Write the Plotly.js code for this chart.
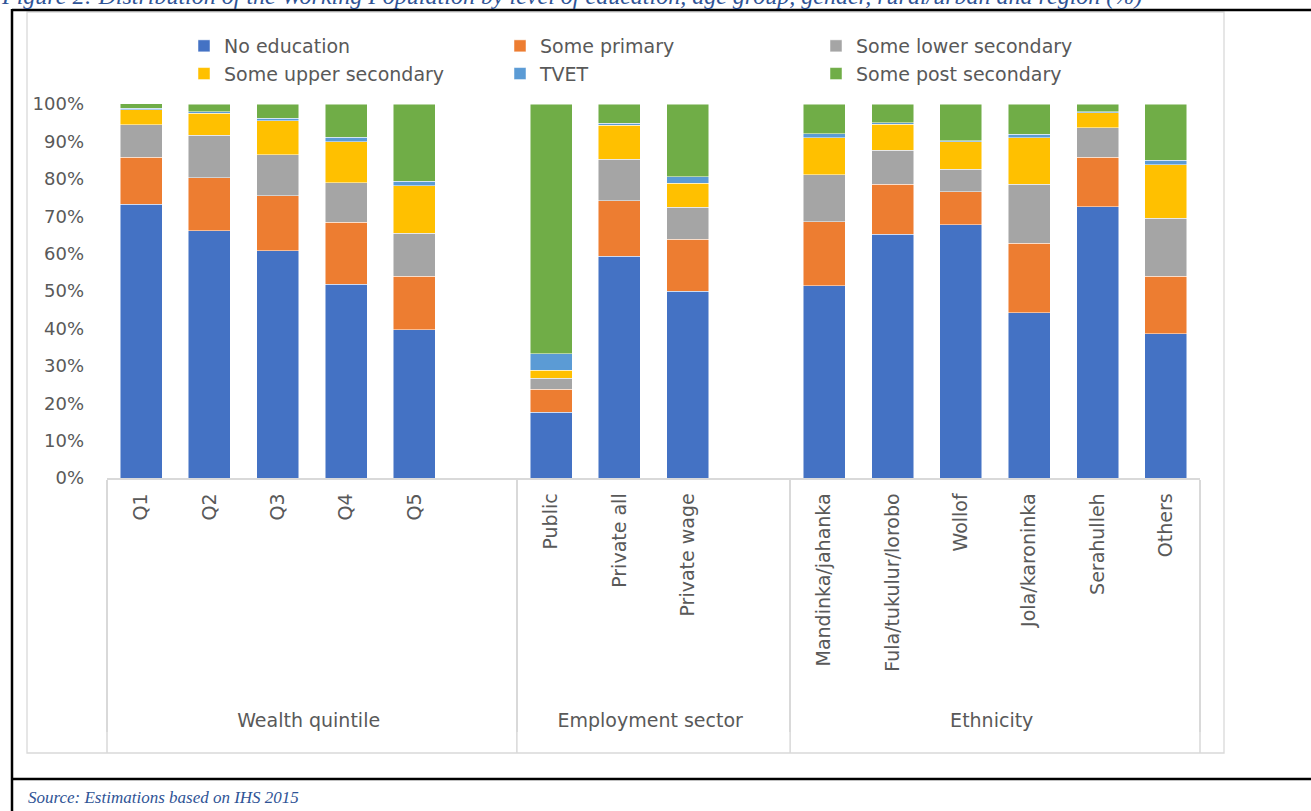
<!DOCTYPE html>
<html>
<head>
<meta charset="utf-8">
<script src="https://cdn.plot.ly/plotly-3.0.1.min.js"></script>
<style>
  html, body { margin: 0; padding: 0; background: #ffffff; }
  #chart { width: 1311px; height: 811px; }
</style>
</head>
<body>
<div id="chart"></div>
<script>
// ---- data (percent) ----
const groups = [
  "Wealth quintile", "Wealth quintile", "Wealth quintile", "Wealth quintile", "Wealth quintile", "Wealth quintile",
  "Employment sector", "Employment sector", "Employment sector", "Employment sector",
  "Ethnicity", "Ethnicity", "Ethnicity", "Ethnicity", "Ethnicity", "Ethnicity"
];
const categories = [
  "Q1", "Q2", "Q3", "Q4", "Q5", " ",
  "Public", "Private all", "Private wage", "  ",
  "Mandinka/jahanka", "\u00a0\u00a0\u00a0\u00a0Fula/tukulur/lorobo", "Wollof", "Jola/karoninka", "Serahulleh", "Others"
];
const seriesNames = ["No education", "Some primary", "Some lower secondary",
                     "Some upper secondary", "TVET", "Some post secondary"];
const noEducation        = [73.2, 66.1, 60.7, 51.8, 39.7, null, 17.6, 59.3, 50.0, null, 51.4, 65.2, 67.7, 44.2, 72.5, 38.6];
const somePrimary        = [12.5, 14.2, 14.8, 16.6, 14.3, null,  6.1, 14.8, 13.9, null, 17.1, 13.3,  8.9, 18.6, 13.2, 15.4];
const someLowerSecondary = [ 8.8, 11.4, 10.9, 10.5, 11.5, null,  3.0, 11.1,  8.5, null, 12.6,  9.1,  5.9, 15.8,  8.0, 15.5];
const someUpperSecondary = [ 4.0,  5.8,  9.1, 11.0, 12.7, null,  2.1,  9.1,  6.4, null,  9.9,  7.0,  7.4, 12.4,  3.9, 14.2];
const tvet               = [ 0.3,  0.4,  0.7,  1.2,  1.1, null,  4.4,  0.6,  1.8, null,  1.0,  0.4,  0.3,  0.9,  0.3,  1.2];
const somePostSecondary  = [ 1.3,  2.1,  3.8,  8.9, 20.7, null, 66.8,  5.1, 19.4, null,  8.0,  5.0,  9.8,  8.1,  2.1, 15.1];
const seriesValues = [noEducation, somePrimary, someLowerSecondary, someUpperSecondary, tvet, somePostSecondary];
const seriesColors = ["#4472C4", "#ED7D31", "#A5A5A5", "#FFC000", "#5B9BD5", "#70AD47"];
const yTickVals = [0, 10, 20, 30, 40, 50, 60, 70, 80, 90, 100];
const yTickText = ["0%", "10%", "20%", "30%", "40%", "50%", "60%", "70%", "80%", "90%", "100%"];

const titleText = "Figure 2: Distribution of the Working Population by level of education, age group, gender, rural/urban and region (%)";
const sourceText = "Source: Estimations based on IHS 2015";

// ---- geometry helpers (page pixels -> paper coords) ----
const W = 1311, H = 811;
const PL = 107, PR = 1200, PT = 104, PB = 478;
const px = x => (x - PL) / (PR - PL);
const py = y => (PB - y) / (PB - PT);

const textFont = "DejaVu Sans, Open Sans, sans-serif";
const grey = "#595959";
const divColor = "#d9d9d9";

const traces = seriesNames.map((name, i) => ({
  type: "bar",
  name: name,
  x: [groups, categories],
  y: seriesValues[i],
  marker: { color: seriesColors[i], line: { color: "rgba(255,255,255,0.7)", width: 0.7 } },
  hovertemplate: "%{x}<br>" + name + ": %{y}%<extra></extra>"
}));

// group boundaries (in category-slot units) -> extend dividers down to the chart box
const nSlots = categories.length;
const bounds = [0];
for (let i = 0; i < nSlots - 1; i++) if (groups[i] !== groups[i + 1]) bounds.push(i + 1);
bounds.push(nSlots);
const dividerShapes = bounds.map(b => ({
  type: "line", xref: "paper", yref: "paper",
  x0: b / nSlots, x1: b / nSlots, y0: py(700), y1: py(753),
  line: { color: divColor, width: 1.5 }, layer: "below"
}));

const layout = {
  width: W, height: H,
  margin: { l: PL, r: W - PR, t: PT, b: H - PB, pad: 0 },
  paper_bgcolor: "#ffffff",
  plot_bgcolor: "#ffffff",
  barmode: "stack",
  bargap: 0.385,
  showlegend: true,
  legend: {
    orientation: "h",
    traceorder: "normal",
    x: px(184), xanchor: "left",
    y: py(27), yanchor: "top",
    entrywidth: 271, entrywidthmode: "pixels",
    font: { family: textFont, size: 19, color: grey },
    bgcolor: "rgba(0,0,0,0)",
    itemclick: false, itemdoubleclick: false
  },
  xaxis: {
    type: "multicategory",
    tickangle: -90,
    tickfont: { family: textFont, size: 19, color: grey },
    showline: true, linecolor: divColor, linewidth: 1.5,
    ticks: "",
    showgrid: false,
    showdividers: true, dividercolor: divColor, dividerwidth: 1.5,
    ticklabelstandoff: 6,
    fixedrange: true
  },
  yaxis: {
    range: [0, 100],
    tickmode: "array",
    tickvals: yTickVals,
    ticktext: yTickText,
    tickfont: { family: textFont, size: 18, color: grey },
    showline: false, showgrid: false, zeroline: false,
    ticks: "",
    ticklabelstandoff: 22,
    fixedrange: true
  },
  shapes: [
    // chart area box
    { type: "rect", xref: "paper", yref: "paper", x0: px(27), x1: px(1224), y0: py(753), y1: py(12),
      line: { color: divColor, width: 1.3 }, layer: "below" },
    // document table frame lines
    { type: "line", xref: "paper", yref: "paper", x0: px(12), x1: px(1320), y0: py(10), y1: py(10),
      line: { color: "#000000", width: 2.5 } },
    { type: "line", xref: "paper", yref: "paper", x0: px(12), x1: px(12), y0: py(9), y1: py(820),
      line: { color: "#000000", width: 2.5 } },
    { type: "line", xref: "paper", yref: "paper", x0: px(12), x1: px(1320), y0: py(779), y1: py(779),
      line: { color: "#000000", width: 2.5 } }
  ].concat(dividerShapes),
  annotations: [
    { text: titleText, xref: "paper", yref: "paper", x: px(-1), xanchor: "left",
      y: py(11), yanchor: "bottom", showarrow: false,
      font: { family: "Liberation Serif, serif", size: 24, color: "#2F5496", style: "italic" } },
    { text: sourceText, xref: "paper", yref: "paper", x: px(26), xanchor: "left",
      y: py(797), yanchor: "middle", showarrow: false,
      font: { family: "Liberation Serif, serif", size: 17, color: "#2F5496", style: "italic" } }
  ]
};

Plotly.newPlot("chart", traces, layout, { displayModeBar: false, responsive: false });
</script>
</body>
</html>
